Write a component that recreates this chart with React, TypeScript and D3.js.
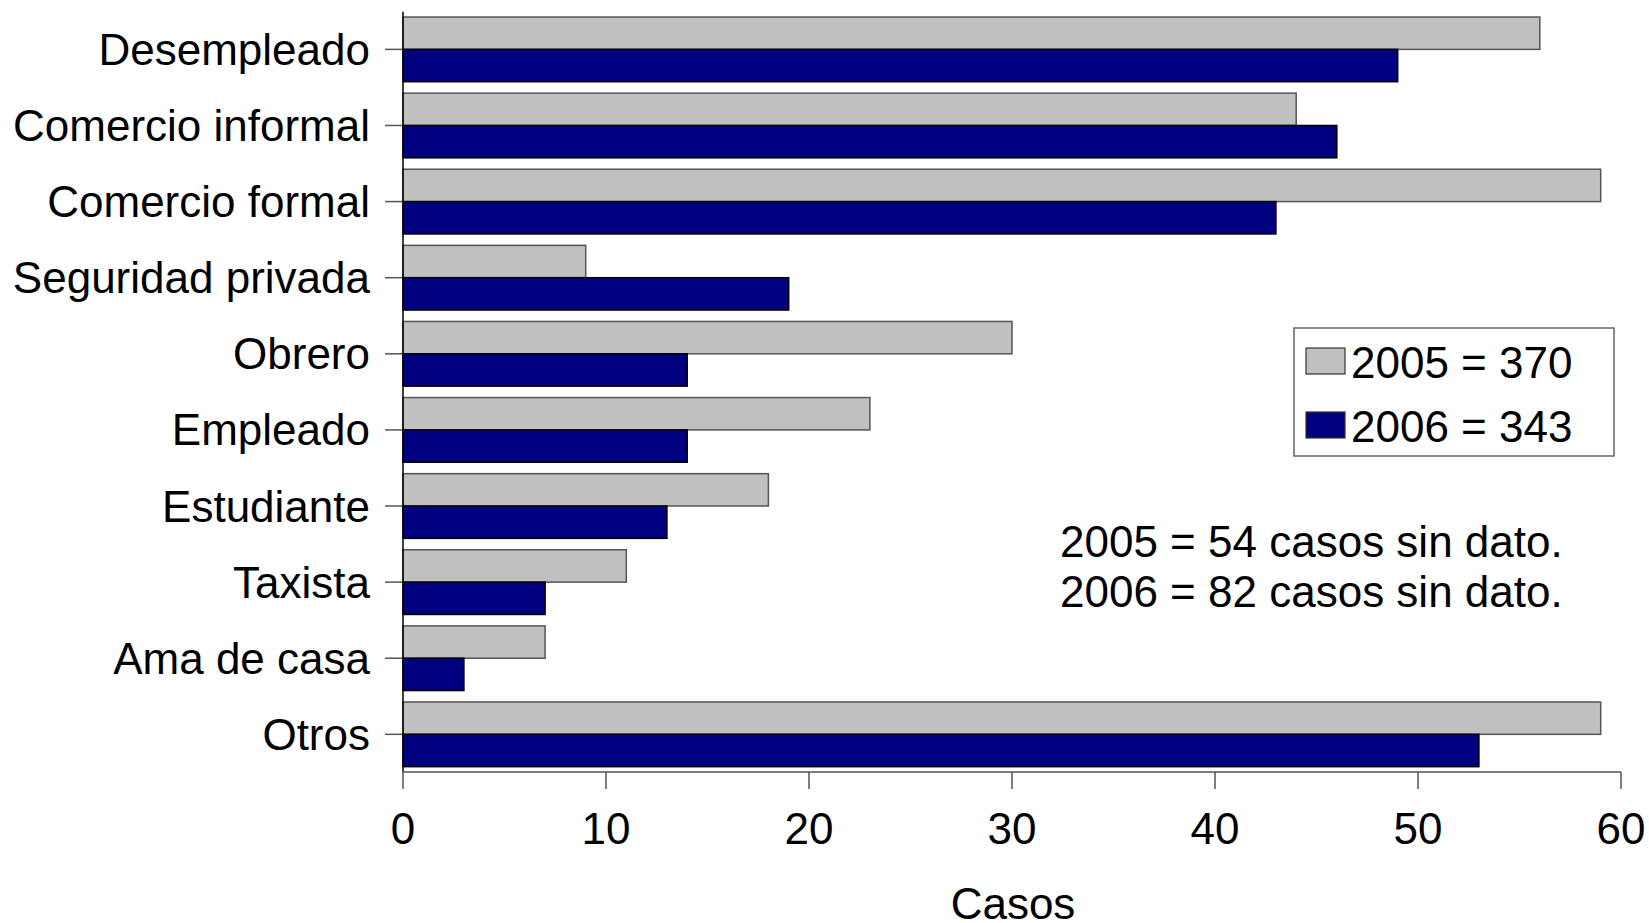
import React from "react";
import * as d3 from "d3";

const categories = [
  "Desempleado",
  "Comercio informal",
  "Comercio formal",
  "Seguridad privada",
  "Obrero",
  "Empleado",
  "Estudiante",
  "Taxista",
  "Ama de casa",
  "Otros",
];
const values2005 = [56, 44, 59, 9, 30, 23, 18, 11, 7, 59];
const values2006 = [49, 46, 43, 19, 14, 14, 13, 7, 3, 53];
const xTicks = [0, 10, 20, 30, 40, 50, 60];
const legendLabels = ["2005 = 370", "2006 = 343"];
const notes = ["2005 = 54 casos sin dato.", "2006 = 82 casos sin dato."];
const xTitle = "Casos";

const W = 1649;
const H = 923;
const FONT = "'Liberation Sans', Arial, sans-serif";
const GRAY = "#C0C0C0";
const NAVY = "#000080";
const FS = 44;

export default function App() {
  const x = d3.scaleLinear().domain([0, 60]).range([403, 1621]);
  const y = d3
    .scaleBand<string>()
    .domain(categories)
    .range([11.7, 772])
    .paddingInner(0.15)
    .paddingOuter(0.07);
  const bh = y.bandwidth() / 2;
  const axisY = 772;

  return (
    <svg
      width={W}
      height={H}
      style={{ position: "absolute", left: 0, top: 0, background: "#fff" }}
      fontFamily={FONT}
    >
      <rect x={0} y={0} width={W} height={H} fill="#fff" />
      {categories.map((c, i) => {
        const y0 = y(c)!;
        return (
          <g key={c}>
            <rect
              x={x(0)}
              y={y0}
              width={x(values2005[i]) - x(0)}
              height={bh}
              fill={GRAY}
              stroke="#555"
              strokeWidth={1.5}
            />
            <rect
              x={x(0)}
              y={y0 + bh}
              width={x(values2006[i]) - x(0)}
              height={bh}
              fill={NAVY}
              stroke="#000"
              strokeWidth={1.5}
            />
            <line
              x1={x(0) - 18}
              x2={x(0)}
              y1={y0 + bh}
              y2={y0 + bh}
              stroke="#555"
              strokeWidth={1.5}
            />
            <text
              x={370}
              y={y0 + bh}
              textAnchor="end"
              dominantBaseline="central"
              fontSize={FS}
              fill="#000"
            >
              {c}
            </text>
          </g>
        );
      })}
      {/* axes */}
      <line x1={x(0)} x2={x(0)} y1={11.7} y2={axisY} stroke="#000" strokeWidth={1.5} />
      <line x1={x(0)} x2={x(60)} y1={axisY} y2={axisY} stroke="#555" strokeWidth={1.5} />
      {xTicks.map((t) => (
        <g key={t}>
          <line x1={x(t)} x2={x(t)} y1={axisY} y2={axisY + 17} stroke="#555" strokeWidth={1.5} />
          <text
            x={x(t)}
            y={828}
            textAnchor="middle"
            dominantBaseline="central"
            fontSize={FS}
            fill="#000"
          >
            {t}
          </text>
        </g>
      ))}
      <text x={1013} y={903} textAnchor="middle" dominantBaseline="central" fontSize={FS}>
        {xTitle}
      </text>
      {/* legend */}
      <rect x={1294} y={328} width={320} height={128} fill="#fff" stroke="#666" strokeWidth={1.5} />
      {legendLabels.map((l, i) => (
        <g key={l}>
          <rect
            x={1306}
            y={348 + i * 64}
            width={39}
            height={26}
            fill={i === 0 ? GRAY : NAVY}
            stroke="#333"
            strokeWidth={1.2}
          />
          <text x={1351} y={362 + i * 64} dominantBaseline="central" fontSize={FS}>
            {l}
          </text>
        </g>
      ))}
      {notes.map((n, i) => (
        <text key={n} x={1060} y={541 + i * 50} dominantBaseline="central" fontSize={FS}>
          {n}
        </text>
      ))}
    </svg>
  );
}
